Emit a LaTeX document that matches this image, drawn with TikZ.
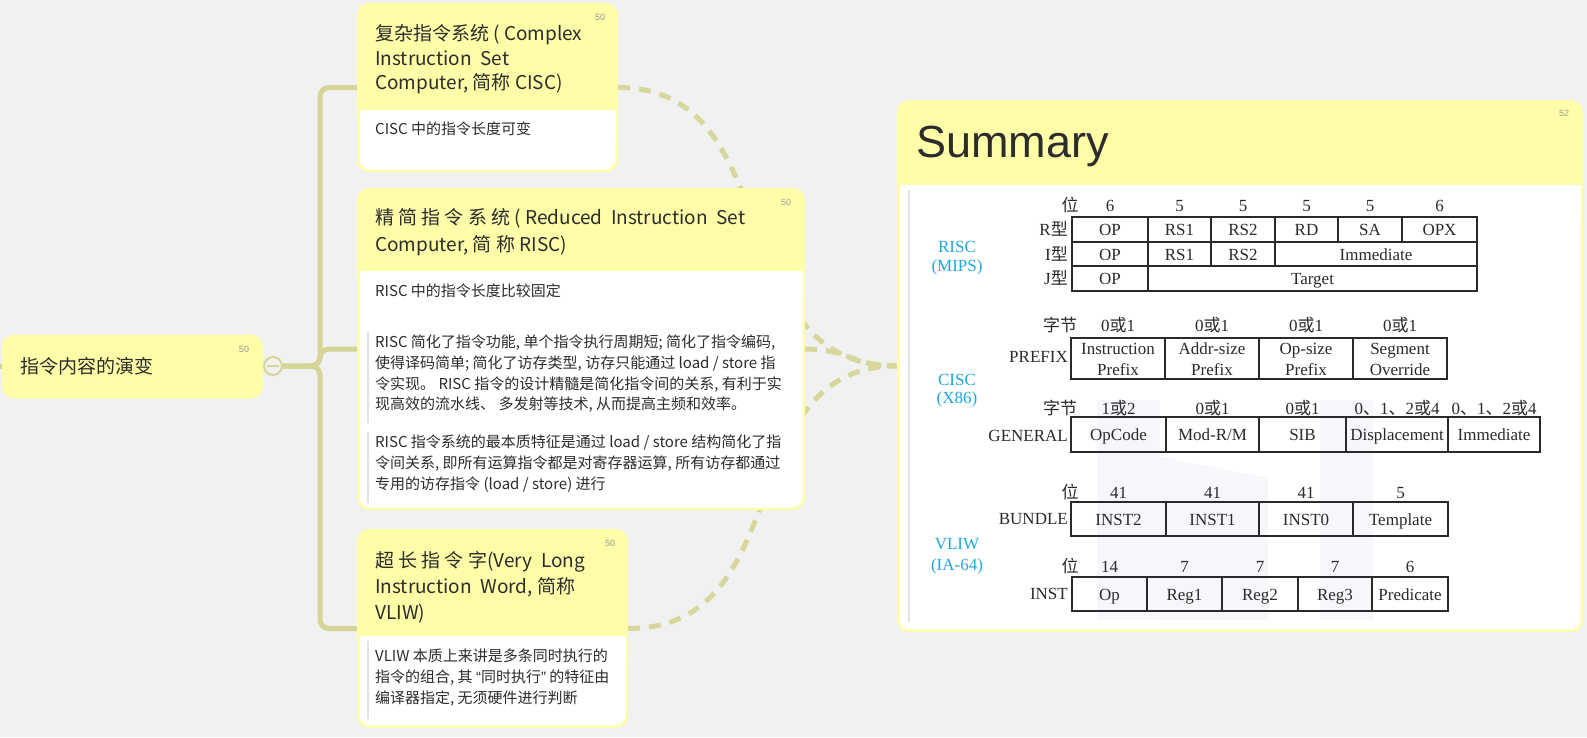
\documentclass[tikz,border=0pt]{standalone}
\usepackage{fontspec}
\usetikzlibrary{calc}
\setmainfont{Liberation Serif}
\newfontfamily\cjk{Noto Sans CJK SC}
\newfontfamily\arialfont{Liberation Sans}
\newcommand{\setpx}[1]{\fontsize{#1}{#1}\selectfont}
\definecolor{bg}{HTML}{F1F1F1}
\definecolor{hdr}{HTML}{FFFDA8}
\definecolor{olv}{HTML}{D5D597}
\definecolor{ink}{HTML}{2C2C2C}
\definecolor{tbl}{HTML}{2A2A2A}
\definecolor{cyanlbl}{HTML}{1FA8E0}
\definecolor{wm}{HTML}{F6F7FA}
\definecolor{quotebar}{HTML}{E2E2E2}
\definecolor{numgray}{HTML}{9A9A9A}
\begin{document}
\begin{tikzpicture}[x=1pt,y=-1pt,
  branch/.style={draw=olv,line width=5,rounded corners=9},
  rel/.style={draw=olv!95!white,line width=5,dash pattern=on 12 off 9},
  cardshape/.style={rectangle,rounded corners=12,fill=hdr,inner sep=0},
  ttl/.style={anchor=base west,inner sep=0,font=\cjk\setpx{19},text=ink},
  bdy/.style={anchor=base west,inner sep=0,font=\cjk\setpx{15},text=ink},
  tag/.style={anchor=center,inner sep=0,font=\arialfont\setpx{9},text=numgray},
  tx/.style={anchor=base,inner sep=0,font=\setpx{17},text=tbl},
  rlbl/.style={anchor=base east,inner sep=0,font=\setpx{17},text=tbl},
  isa/.style={anchor=base,inner sep=0,font=\setpx{17},text=cyanlbl},
  cellline/.style={draw=tbl,line width=1.2},
  quote/.style={draw=quotebar,line width=1.5}]
\newcommand{\cj}[1]{{\cjk #1}}
% page and background
\useasboundingbox (0,0) rectangle (1587,737);
\fill[bg] (0,0) rectangle (1587,737);

% centres of the topic cards
\path (487.5,87.5) coordinate (ciscc) (581,349) coordinate (riscc) (492.5,628.5) coordinate (vliwc);

% summary connectors (drawn below the cards)
\coordinate (cisce) at (618,87.5);
\coordinate (risce) at (805,349);
\coordinate (vliwe) at (628,628.5);
\coordinate (summw) at (897,366);
\draw[rel] (cisce) .. controls (790,87.5) and (720,366) .. (summw);
\draw[rel] (vliwe) .. controls (800,628.5) and (730,366) .. (summw);
\draw[rel] (risce) .. controls (850,349) and (850,366) .. (summw);

% tree branches
\coordinate (stub) at (-6,366);
\coordinate (rootw) at (4,366);
\draw[olv,line width=5] (stub) -- (rootw);
\node[circle,draw=olv,line width=2,fill=bg,minimum size=18,inner sep=0] (tog) at (273,366) {};
\draw[olv,line width=2] ($(tog.west)+(4,0)$) -- ($(tog.east)+(-4,0)$);
\coordinate (fork) at (320,366);
\draw[branch] (tog.east) -- (fork) |- (357,87.5) coordinate (ciscw);
\draw[branch] (tog.east) -- (fork) |- (357,349) coordinate (riscw);
\draw[branch] (tog.east) -- (fork) |- (357,628.5) coordinate (vliww);

% root topic
\node[cardshape,minimum width=261,minimum height=64] (root) at (132.5,366.5) {};
\node[ttl] (roottxt) at (20,373) {指令内容的演变};
\node[tag] (roottag) at (244,349) {50};

% CISC card
\node[cardshape,minimum width=261,minimum height=169] (cisc) at (ciscc) {};
\fill[white,rounded corners=10] (359.5,110) rectangle (615.5,169.5);
\fill[white] (359.5,110) rectangle (615.5,140);
\node[tag] (cisctag) at (600,17) {50};
\node[ttl] (ct1) at (375,40) {复杂指令系统 ( Complex};
\node[ttl] (ct2) at (375,65) {Instruction~~Set};
\node[ttl] (ct3) at (375,89) {Computer, 简称 CISC)};
\node[bdy] (cb1) at (375,134.5) {CISC 中的指令长度可变};

% RISC card
\node[cardshape,minimum width=448,minimum height=322] (risc) at (riscc) {};
\fill[white,rounded corners=10] (359.5,271) rectangle (802.5,507.5);
\fill[white] (359.5,271) rectangle (802.5,300);
\node[tag] (risctag) at (786,202) {50};
\node[ttl] (rt1) at (375,224) {精 简 指 令 系 统 ( Reduced~~Instruction~~Set};
\node[ttl] (rt2) at (375,251) {Computer, 简 称 RISC)};
\node[bdy] (rb0) at (375,296) {RISC 中的指令长度比较固定};
\draw[quote] (368,332) -- (368,423);
\node[bdy] (rb1) at (375,347.5) {RISC 简化了指令功能, 单个指令执行周期短; 简化了指令编码,};
\node[bdy] (rb2) at (375,368) {使得译码简单; 简化了访存类型, 访存只能通过 load / store 指};
\node[bdy] (rb3) at (375,389) {令实现。 RISC 指令的设计精髓是简化指令间的关系, 有利于实};
\node[bdy] (rb4) at (375,409.5) {现高效的流水线、 多发射等技术, 从而提高主频和效率。};
\draw[quote] (368,432) -- (368,503);
\node[bdy] (rb5) at (375,447.5) {RISC 指令系统的最本质特征是通过 load / store 结构简化了指};
\node[bdy] (rb6) at (375,468.5) {令间关系, 即所有运算指令都是对寄存器运算, 所有访存都通过};
\node[bdy] (rb7) at (375,489.5) {专用的访存指令 (load / store) 进行};

% VLIW card
\node[cardshape,minimum width=271,minimum height=199] (vliw) at (vliwc) {};
\fill[white,rounded corners=10] (359.5,636) rectangle (625.5,725.5);
\fill[white] (359.5,636) rectangle (625.5,660);
\node[tag] (vliwtag) at (610,543) {50};
\node[ttl] (vt1) at (375,567) {超 长 指 令 字(Very~~Long};
\node[ttl] (vt2) at (375,593) {Instruction~~Word, 简称};
\node[ttl] (vt3) at (375,619) {VLIW)};
\draw[quote] (368,641) -- (368,719);
\node[bdy] (vb1) at (375,661.5) {VLIW 本质上来讲是多条同时执行的};
\node[bdy] (vb2) at (375,682.5) {指令的组合, 其 {\arialfont “}同时执行{\arialfont ”} 的特征由};
\node[bdy] (vb3) at (375,703.5) {编译器指定, 无须硬件进行判断};

% summary card
\node[cardshape,minimum width=686,minimum height=532] (summ) at (1240,366) {};
\fill[white,rounded corners=10] (899.5,185) rectangle (1580.5,629.5);
\fill[white] (899.5,185) rectangle (1580.5,220);
\node[tag] (summtag) at (1564,113) {52};
\node[anchor=base west,inner sep=0,font=\arialfont\setpx{45},text=ink] (summtitle) at (916,157) {Summary};
\draw[quote] (909,190) -- (909,622);

% faint backdrop mark behind the formats
\fill[wm] (1097,400) rectangle (1160,620);
\fill[wm] (1160,457) -- (1268,478) -- (1268,620) -- (1160,620) -- cycle;
\fill[wm] (1320,400) rectangle (1373,620);

% ---- RISC (MIPS) formats
\node[isa] (l1a) at (957,252) {RISC};
\node[isa] (l1b) at (957,271) {(MIPS)};
\node[tx] at (1070,211) {\cj{位}};
\foreach \x/\t in {1110/6,1179.5/5,1243/5,1306.5/5,1370/5,1439.5/6}
  \node[tx] at (\x,211) {\t};
\draw[cellline] (1072,217) rectangle (1477,291);
\draw[cellline] (1072,242) -- (1477,242) (1072,266) -- (1477,266);
\draw[cellline] (1148,217) -- (1148,291) (1211,217) -- (1211,266) (1275,217) -- (1275,266)
  (1338,217) -- (1338,242) (1402,217) -- (1402,242);
\node[rlbl] at (1068,235.5) {R\cj{型}};
\node[rlbl] at (1068,260) {I\cj{型}};
\node[rlbl] at (1068,284.5) {J\cj{型}};
\foreach \x/\t in {1110/OP,1179.5/RS1,1243/RS2,1306.5/RD,1370/SA,1439.5/OPX}
  \node[tx] at (\x,235.5) {\t};
\foreach \x/\t in {1110/OP,1179.5/RS1,1243/RS2,1376/Immediate}
  \node[tx] at (\x,260) {\t};
\node[tx] at (1110,284.5) {OP};
\node[tx] at (1312.5,284.5) {Target};

% ---- CISC (X86) formats
\node[isa] (l2a) at (957,385) {CISC};
\node[isa] (l2b) at (957,403) {(X86)};
\node[tx] at (1060,331) {\cj{字节}};
\foreach \x in {1118,1212,1306,1400}
  \node[tx] at (\x,331) {0\cj{或}1};
\draw[cellline] (1071,338) rectangle (1447,379);
\draw[cellline] (1165,338) -- (1165,379) (1259,338) -- (1259,379) (1353,338) -- (1353,379);
\node[rlbl] at (1068,362) {PREFIX};
\foreach \x/\a/\b in {1118/Instruction/Prefix,1212/Addr-size/Prefix,1306/Op-size/Prefix,1400/Segment/Override}{
  \node[tx] at (\x,354) {\a};
  \node[tx] at (\x,375) {\b};
}
\node[tx] at (1060,414) {\cj{字节}};
\node[tx] at (1118.5,414) {1\cj{或}2};
\node[tx] at (1212.5,414) {0\cj{或}1};
\node[tx] at (1302.5,414) {0\cj{或}1};
\node[tx] at (1397,414) {0\cj{、}1\cj{、}2\cj{或}4};
\node[tx] at (1494,414) {0\cj{、}1\cj{、}2\cj{或}4};
\draw[cellline] (1071,417) rectangle (1540,452);
\draw[cellline] (1166,417) -- (1166,452) (1259,417) -- (1259,452) (1346,417) -- (1346,452) (1448,417) -- (1448,452);
\node[rlbl] at (1068,441) {GENERAL};
\foreach \x/\t in {1118.5/OpCode,1212.5/Mod-R\slash M,1302.5/SIB,1397/Displacement,1494/Immediate}
  \node[tx] at (\x,440.5) {\t};

% ---- VLIW (IA-64) formats
\node[isa] (l3a) at (957,549) {VLIW};
\node[isa] (l3b) at (957,570) {(IA-64)};
\node[tx] at (1070,498) {\cj{位}};
\foreach \x/\t in {1118.5/41,1212.5/41,1306/41,1400.5/5}
  \node[tx] at (\x,498) {\t};
\draw[cellline] (1071,502) rectangle (1448,536);
\draw[cellline] (1166,502) -- (1166,536) (1259,502) -- (1259,536) (1353,502) -- (1353,536);
\node[rlbl] at (1068,524) {BUNDLE};
\foreach \x/\t in {1118.5/INST2,1212.5/INST1,1306/INST0,1400.5/Template}
  \node[tx] at (\x,525) {\t};
\node[tx] at (1070,572) {\cj{位}};
\foreach \x/\t in {1109.5/14,1184.5/7,1260/7,1335/7,1410/6}
  \node[tx] at (\x,572) {\t};
\draw[cellline] (1072,577) rectangle (1448,611);
\draw[cellline] (1147,577) -- (1147,611) (1222,577) -- (1222,611) (1298,577) -- (1298,611) (1372,577) -- (1372,611);
\node[rlbl] at (1068,599) {INST};
\foreach \x/\t in {1109.5/Op,1184.5/Reg1,1260/Reg2,1335/Reg3,1410/Predicate}
  \node[tx] at (\x,600) {\t};
\end{tikzpicture}
\end{document}
